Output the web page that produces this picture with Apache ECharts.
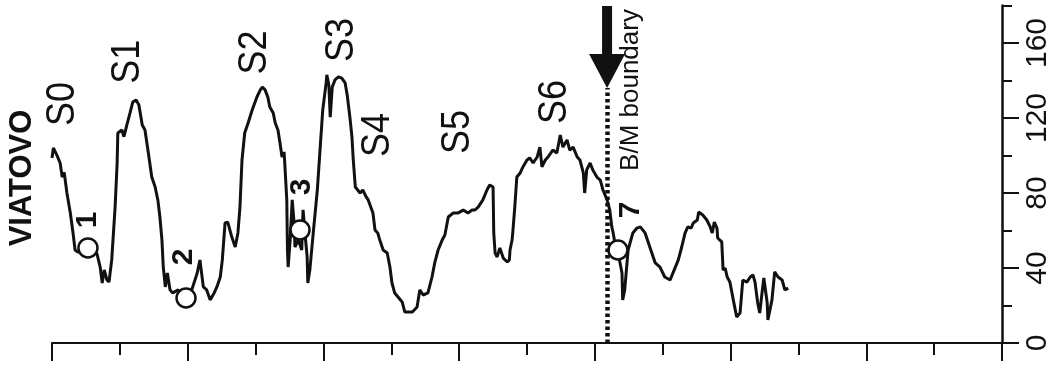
<!DOCTYPE html>
<html>
<head>
<meta charset="utf-8">
<script src="https://cdn.jsdelivr.net/npm/echarts@6/dist/echarts.min.js"></script>
<style>
  html, body { margin: 0; padding: 0; background: #fff; }
  #chart { width: 1054px; height: 372px; }
</style>
</head>
<body>
<div id="chart"></div>
<script>
// Susceptibility record along the section (horizontal axis = position along the profile)
const depth = [
  0.00, 0.02, 0.07, 0.12, 0.15, 0.18, 0.22, 0.27, 0.31, 0.34,
  0.38, 0.53, 0.66, 0.71, 0.74, 0.77, 0.81, 0.84, 0.88, 0.93,
  0.96, 0.97, 1.03, 1.06, 1.11, 1.15, 1.19, 1.24, 1.28, 1.33,
  1.37, 1.42, 1.47, 1.52, 1.56, 1.59, 1.62, 1.64, 1.67, 1.70,
  1.74, 1.78, 1.86, 1.93, 2.03, 2.14, 2.18, 2.23, 2.28, 2.33,
  2.39, 2.43, 2.48, 2.51, 2.55, 2.59, 2.65, 2.70, 2.74, 2.77,
  2.80, 2.84, 2.89, 2.95, 3.02, 3.07, 3.10, 3.14, 3.18, 3.21,
  3.26, 3.29, 3.33, 3.36, 3.39, 3.42, 3.43, 3.46, 3.47, 3.48,
  3.51, 3.54, 3.57, 3.58, 3.63, 3.68, 3.70, 3.73, 3.76, 3.77,
  3.80, 3.85, 3.91, 3.95, 3.99, 4.04, 4.05, 4.08, 4.10, 4.13,
  4.17, 4.22, 4.27, 4.32, 4.35, 4.39, 4.42, 4.44, 4.47, 4.54,
  4.58, 4.63, 4.66, 4.73, 4.76, 4.80, 4.83, 4.88, 4.94, 4.98,
  5.01, 5.05, 5.10, 5.16, 5.20, 5.31, 5.38, 5.42, 5.47, 5.54,
  5.60, 5.64, 5.69, 5.75, 5.79, 5.84, 5.91, 5.98, 6.06, 6.13,
  6.19, 6.23, 6.28, 6.35, 6.41, 6.45, 6.50, 6.51, 6.53, 6.56,
  6.60, 6.65, 6.71, 6.74, 6.75, 6.78, 6.79, 6.82, 6.85, 6.90,
  6.94, 7.00, 7.04, 7.09, 7.15, 7.19, 7.22, 7.27, 7.31, 7.38,
  7.44, 7.49, 7.53, 7.59, 7.63, 7.68, 7.74, 7.78, 7.83, 7.85,
  7.88, 7.93, 7.97, 8.03, 8.08, 8.12, 8.18, 8.22, 8.25, 8.27,
  8.30, 8.34, 8.40, 8.41, 8.44, 8.49, 8.56, 8.62, 8.67, 8.74,
  8.81, 8.89, 8.96, 9.03, 9.11, 9.15, 9.23, 9.28, 9.33, 9.37,
  9.42, 9.45, 9.51, 9.53, 9.59, 9.65, 9.70, 9.73, 9.76, 9.80,
  9.81, 9.87, 9.89, 9.92, 9.95, 9.99, 10.04, 10.09, 10.14, 10.18,
  10.24, 10.29, 10.33, 10.36, 10.40, 10.43, 10.46, 10.49, 10.54, 10.55,
  10.61, 10.65, 10.70, 10.76, 10.80, 10.85
];
const chi = [
  98.7, 104, 100.3, 96, 88.5, 91, 80, 69.3, 58.7, 49.6,
  48.5, 49.6, 48, 40.5, 32, 39, 33.6, 32.5, 44.3, 72.5,
  96, 112, 113.6, 110, 117.3, 122.7, 128.5, 129.6, 127, 116.3,
  113.6, 101.3, 88.5, 83.2, 76.3, 67.2, 55, 40.5, 29.9, 37.3,
  28.3, 26.7, 28.3, 23, 25, 37.3, 44.3, 29.9, 28.3, 23,
  26.7, 29.9, 35.2, 44.3, 64, 64.5, 56.5, 51.2, 58.7, 72.5,
  97.6, 112, 117.3, 124.3, 131.2, 135, 136.5, 135, 131.2, 125.9,
  122.7, 117.3, 113.6, 106.7, 99.2, 101.9, 96, 76.3, 49.6, 40.5,
  55, 76.3, 63, 51.2, 55, 49.6, 71, 57.6, 45.9, 32,
  39, 58.7, 81.6, 103, 124.3, 138.7, 143, 137.6, 120.5, 136.5,
  140.3, 141.9, 141.3, 138.7, 132.3, 120.5, 109.9, 97.6, 83.2, 80,
  81.6, 77.9, 76.3, 69.3, 60.3, 58.7, 55, 49.6, 48, 40.5,
  32, 26.7, 24.5, 21.9, 16.5, 16.5, 19.2, 28.3, 25.6, 26.7,
  35.2, 42.7, 49.6, 54.9, 57.6, 67.2, 69.3, 69.3, 70.9, 69.3,
  70.9, 70.9, 72.5, 76.3, 81.6, 84.3, 83.2, 58.7, 48, 45.9,
  50.7, 45.3, 43.2, 44.3, 49.6, 54.9, 58.7, 72.5, 88.5, 90.7,
  93.9, 97.6, 98.7, 96, 99.2, 104.5, 93.9, 97.6, 99.2, 102.9,
  101.3, 110.9, 104.5, 108.3, 102.9, 104.5, 99.2, 97.6, 90.7, 80,
  92.3, 96, 92.3, 88.5, 86.9, 81.6, 76.3, 70.9, 61.9, 58.7,
  52.3, 48.5, 37.3, 23, 28.3, 49.6, 58.7, 61.3, 61.9, 58.7,
  51.2, 42.7, 40.5, 35.2, 33.6, 37.3, 44.3, 51.2, 58.7, 61.9,
  61.3, 64, 65.6, 69.9, 68.3, 65.6, 61.9, 58.7, 64.5, 61.3,
  56, 53.9, 38.9, 40, 35.2, 32.5, 23, 13.9, 16, 33.6,
  32.5, 35.2, 36.3, 32.5, 21.3, 16, 25.6, 34.7, 21.3, 12.3,
  23, 37.9, 35.2, 33.6, 28.3, 29.3
];

// Sampling points (open circles)
const sampleNames = ['1', '2', '3', '7'];
const sampleDepth = [0.53, 1.975, 3.655, 8.34];
const sampleChi = [50.7, 24, 60.3, 49.6];

// Palaeosol names
const soilNames = ['S0', 'S1', 'S2', 'S3', 'S4', 'S5', 'S6'];

// Brunhes/Matuyama boundary
const bmDepth = 8.18;
const bmTop = 136;

const siteName = 'VIATOVO';
const bmText = 'B/M boundary';

const INK = '#111';
const FONT = '"Liberation Sans", Arial, Helvetica, sans-serif';

const chart = echarts.init(document.getElementById('chart'), null, { renderer: 'canvas' });

chart.setOption({
  animation: false,
  backgroundColor: '#fff',
  grid: [
    { left: 52, right: 52, top: 5.5, bottom: 29, outerBoundsMode: 'none' },
    { left: 52, right: 52, top: 43, bottom: 29, outerBoundsMode: 'none' }
  ],
  xAxis: [
    {
      type: 'value', min: 0, max: 14, interval: 2,
      axisLine: { show: true, onZero: false, lineStyle: { color: INK, width: 2 } },
      axisTick: { show: true, length: 18, lineStyle: { color: INK, width: 2 } },
      minorTick: { show: true, splitNumber: 2, length: 12, lineStyle: { color: INK, width: 2 } },
      axisLabel: { show: false },
      splitLine: { show: false },
      minorSplitLine: { show: false }
    },
    { type: 'value', gridIndex: 1, min: 0, max: 14, show: false }
  ],
  yAxis: [
    {
      type: 'value', position: 'right', min: 0, max: 180, interval: 20,
      axisLine: { show: true, onZero: false, lineStyle: { color: INK, width: 2.5 } },
      axisTick: { show: true, length: 10, lineStyle: { color: INK, width: 2 } },
      axisLabel: { show: false },
      splitLine: { show: false }
    },
    {
      type: 'value', gridIndex: 1, position: 'right', min: 0, max: 160, interval: 40,
      axisLine: { show: false, onZero: false },
      axisTick: { show: true, length: 17, lineStyle: { color: INK, width: 2 } },
      axisLabel: { show: true, rotate: 90, margin: 21, fontSize: 30, color: INK, fontFamily: FONT },
      splitLine: { show: false }
    }
  ],
  series: [
    {
      type: 'line',
      xAxisIndex: 0, yAxisIndex: 0,
      data: depth.map((d, i) => [d, chi[i]]),
      showSymbol: false,
      symbol: 'none',
      lineStyle: { color: INK, width: 3 },
      z: 2,
      markLine: {
        silent: true,
        symbol: ['none', 'none'],
        label: { show: false },
        lineStyle: { color: INK, width: 4.5, type: [3.5, 3], cap: 'butt' },
        data: [[{ coord: [bmDepth, 0] }, { coord: [bmDepth, bmTop] }]]
      }
    },
    {
      type: 'scatter',
      xAxisIndex: 0, yAxisIndex: 0,
      data: sampleDepth.map((d, i) => [d, sampleChi[i]]),
      symbol: 'circle',
      symbolSize: 19,
      itemStyle: { color: '#fff', borderColor: INK, borderWidth: 2.5, opacity: 1 },
      z: 4
    }
  ]
});

// Annotation anchors in data space (position, susceptibility)
const soilAnchor = [[0.15, 127.5], [1.12, 150], [2.99, 155], [4.27, 161.6], [4.80, 111], [5.98, 112.5], [7.40, 128.5]];
const sampleAnchor = [[0.53, 65.6], [1.945, 45.9], [3.684, 83.2], [8.53, 71]];

const toPx = (p) => chart.convertToPixel({ gridIndex: 0 }, p);

function upText(str, p, size, weight, stretch) {
  return {
    type: 'text',
    x: p[0], y: p[1],
    rotation: Math.PI / 2,
    scaleY: stretch || 1,
    z: 10,
    style: {
      text: str,
      fontSize: size, fontWeight: weight || 'normal', fontFamily: FONT,
      fill: INK,
      align: 'center', verticalAlign: 'middle',
      textAlign: 'center', textVerticalAlign: 'middle'
    }
  };
}

const elements = [];
soilNames.forEach((s, i) => elements.push(upText(s, toPx(soilAnchor[i]), 36, 'normal', 1.15)));
sampleNames.forEach((s, i) => elements.push(upText(s, toPx(sampleAnchor[i]), 30, 'bold', 1)));
elements.push(upText(siteName, [22, 178], 31, 'bold', 1));

const bmBase = toPx([bmDepth, bmTop]);
elements.push(upText(bmText, [bmBase[0] + 24, 90], 26, 'normal', 1));

// Arrow pointing down at the boundary
elements.push({
  type: 'rect', z: 10,
  shape: { x: bmBase[0] - 5, y: 6, width: 10, height: bmBase[1] - 34 - 6 + 1 },
  style: { fill: INK }
});
elements.push({
  type: 'polygon', z: 10,
  shape: { points: [[bmBase[0] - 18, bmBase[1] - 34], [bmBase[0] + 18, bmBase[1] - 34], [bmBase[0], bmBase[1]]] },
  style: { fill: INK }
});

chart.setOption({ graphic: { elements: elements } });
</script>
</body>
</html>
